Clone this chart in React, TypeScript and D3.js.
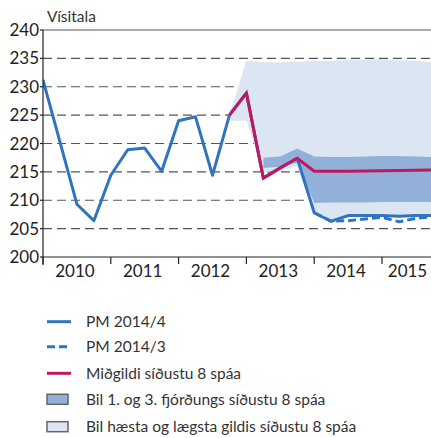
import React from "react";
import * as d3 from "d3";

// Quarterly periods (index 0 = start of 2010)
const periods = [
  "2010Q1","2010Q2","2010Q3","2010Q4","2011Q1","2011Q2","2011Q3","2011Q4",
  "2012Q1","2012Q2","2012Q3","2012Q4","2013Q1","2013Q2","2013Q3","2013Q4",
  "2014Q1","2014Q2","2014Q3","2014Q4","2015Q1","2015Q2","2015Q3","2015Q4",
];
const years = ["2010", "2011", "2012", "2013", "2014", "2015"];
const yTicks = [200, 205, 210, 215, 220, 225, 230, 235, 240];

// PM 2014/4 (solid blue)
const pm2014_4: (number | null)[] = [
  231.2, 220.3, 209.3, 206.4, 214.4, 218.9, 219.2, 215.1, 224.0, 224.7, 214.4, 225.0,
  228.9, 213.9, 215.7, 217.4, 207.8, 206.3, 207.3, 207.3, 207.3, 207.2, 207.3, 207.3,
];
// PM 2014/3 (dashed blue)
const pm2014_3: (number | null)[] = [
  null, null, null, null, null, null, null, null, null, null, null, null,
  null, null, null, null, 207.8, 206.3, 206.4, 206.7, 207.0, 206.2, 206.8, 207.1,
];
// Median of last 8 forecasts
const median: (number | null)[] = [
  null, null, null, null, null, null, null, null, null, null, null, 225.0,
  228.9, 213.9, 215.7, 217.4, 215.1, 215.1, 215.1, 215.15, 215.2, 215.25, 215.3, 215.35,
];
// Interquartile range
const q1: (number | null)[] = [
  null, null, null, null, null, null, null, null, null, null, null, null,
  null, 215.7, 215.9, 216.6, 209.5, 209.6, 209.6, 209.6, 209.7, 209.7, 209.7, 209.7,
];
const q3: (number | null)[] = [
  null, null, null, null, null, null, null, null, null, null, null, null,
  null, 217.5, 217.7, 219.1, 217.7, 217.6, 217.6, 217.7, 217.8, 217.8, 217.7, 217.6,
];
// Min / max range
const minV: (number | null)[] = [
  null, null, null, null, null, null, null, null, null, null, null, 224.0,
  224.0, 215.0, 215.2, 216.0, 208.0, 206.4, 207.4, 207.4, 207.4, 207.3, 207.4, 207.4,
];
const maxV: (number | null)[] = [
  null, null, null, null, null, null, null, null, null, null, null, 225.1,
  234.6, 234.3, 234.3, 234.4, 234.6, 234.6, 234.7, 234.8, 234.9, 234.7, 234.6, 234.4,
];

const legendItems = [
  { label: "PM 2014/4", kind: "line" },
  { label: "PM 2014/3", kind: "dash" },
  { label: "Miðgildi síðustu 8 spáa", kind: "median" },
  { label: "Bil 1. og 3. fjórðungs síðustu 8 spáa", kind: "iqr" },
  { label: "Bil hæsta og lægsta gildis síðustu 8 spáa", kind: "range" },
];

const BLUE = "#2f74bf";
const MAGENTA = "#c1175f";
const DARK = "#93b1d8";
const LIGHT = "#dce6f2";
const FONT = "Lato, 'Open Sans', sans-serif";

export default function App() {
  const W = 431, H = 438;
  const left = 43, right = 431, top = 30, bottom = 257;
  const qw = 16.95;
  const x = d3.scaleLinear().domain([0, 1]).range([left, left + qw]);
  const y = d3.scaleLinear().domain([200, 240]).range([bottom, top]);

  const line = d3.line<number | null>()
    .defined((d) => d != null)
    .x((_, i) => x(i))
    .y((d) => y(d as number));

  const area = (lo: (number | null)[], hi: (number | null)[]) =>
    d3.area<number>()
      .defined((i) => lo[i] != null && hi[i] != null)
      .x((i) => x(i))
      .y0((i) => y(lo[i] as number))
      .y1((i) => y(hi[i] as number))(periods.map((_, i) => i)) || "";

  const yearTicks = years.map((_, k) => k * 4);

  return (
    <svg width={W} height={H} style={{ position: "absolute", left: 0, top: 0 }} fontFamily={FONT}>
      <defs>
        <clipPath id="plot">
          <rect x={left} y={0} width={right - left} height={bottom} />
        </clipPath>
      </defs>
      <rect width={W} height={H} fill="#fff" />
      <text x={47} y={22} fontSize={15.5} fill="#333">Vísitala</text>

      {/* gridlines */}
      {yTicks.filter((t) => t > 200 && t < 240).map((t) => (
        <line key={t} x1={left} x2={right} y1={y(t)} y2={y(t)} stroke="#555" strokeWidth={1.2} strokeDasharray="9,5" />
      ))}
      <line x1={left} x2={right} y1={y(240)} y2={y(240)} stroke="#555" strokeWidth={1.2} />

      <g clipPath="url(#plot)">
        <path d={area(minV, maxV)} fill={LIGHT} />
        <path d={area(q1, q3)} fill={DARK} />
        <path d={line(pm2014_3) || ""} fill="none" stroke={BLUE} strokeWidth={3} strokeDasharray="8,4" />
        <path d={line(pm2014_4) || ""} fill="none" stroke={BLUE} strokeWidth={3} strokeLinejoin="round" />
        <path d={line(median) || ""} fill="none" stroke={MAGENTA} strokeWidth={3} />
      </g>

      {/* axes */}
      <line x1={left} x2={left} y1={top} y2={bottom + 8} stroke="#222" strokeWidth={1.2} />
      <line x1={left} x2={right} y1={bottom} y2={bottom} stroke="#222" strokeWidth={1.2} />
      {yTicks.map((t) => (
        <g key={t}>
          <line x1={left - 3} x2={left} y1={y(t)} y2={y(t)} stroke="#222" strokeWidth={1.2} />
          <text x={39} y={y(t)} dy="0.36em" textAnchor="end" fontSize={17} fill="#222">{t}</text>
        </g>
      ))}
      {yearTicks.map((i, k) => {
        const cx = Math.min(x(i + 2) - 2, 407.5);
        return (
          <g key={k}>
            <line x1={x(i)} x2={x(i)} y1={bottom} y2={bottom + 7} stroke="#222" strokeWidth={1.2} />
            <text x={cx} y={277} textAnchor="middle" fontSize={17} fill="#222">{years[k]}</text>
          </g>
        );
      })}

      {/* legend */}
      {legendItems.map((it, k) => {
        const cy = [321.7, 346.7, 373.3, 399.3, 426.7][k];
        return (
          <g key={it.label}>
            {it.kind === "line" && <line x1={47} x2={71} y1={cy} y2={cy} stroke={BLUE} strokeWidth={3} />}
            {it.kind === "dash" && <line x1={47} x2={71} y1={cy} y2={cy} stroke={BLUE} strokeWidth={3} strokeDasharray="8,4" />}
            {it.kind === "median" && <line x1={47} x2={71} y1={cy} y2={cy} stroke={MAGENTA} strokeWidth={3} />}
            {it.kind === "iqr" && <rect x={47} y={cy - 5} width={21} height={10} fill={DARK} stroke="#666" strokeWidth={1.5} />}
            {it.kind === "range" && <rect x={47} y={cy - 5} width={21} height={10} fill={LIGHT} stroke="#666" strokeWidth={1.5} />}
            <text x={86} y={cy} dy="0.36em" fontSize={15.5} fill="#333">{it.label}</text>
          </g>
        );
      })}
    </svg>
  );
}
